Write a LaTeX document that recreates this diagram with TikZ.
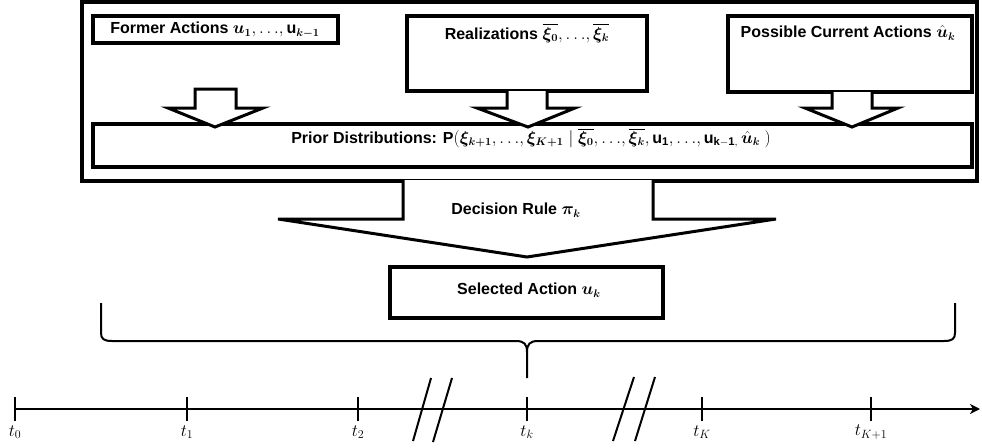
\documentclass[tikz,border=0pt]{standalone}
\usepackage{amsmath}
\usepackage{bm}
\usepackage{fontspec}
\setmainfont{Liberation Sans}
\usetikzlibrary{arrows.meta}

\begin{document}
\begin{tikzpicture}[x=1pt,y=-1pt,
  frame/.style={draw, line width=3.5pt, inner sep=0pt},
  box/.style={draw, line width=3.5pt, fill=white, inner sep=0pt},
  blk/.style={draw, line width=3pt, fill=white, line join=miter},
  lbl/.style={font=\fontsize{16}{19}\selectfont\bfseries, inner sep=0pt},
  brace/.style={draw, line width=2pt},
  axis/.style={draw, line width=2.5pt},
  tick/.style={draw, line width=2pt},
  cut/.style={draw, line width=2pt},
  tlab/.style={font=\fontsize{18}{20}\selectfont, inner sep=0pt}]

\useasboundingbox (0,0) rectangle (982,447);

% outer frame with the information available at stage k
\node[frame, minimum width=895pt, minimum height=179pt] (outer) at (529.5,91.5) {};

% information sources
\node[box, minimum width=245pt, minimum height=27pt] (former) at (215.5,29.5) {};
\node[box, minimum width=240pt, minimum height=75pt] (real) at (527,53.5) {};
\node[box, minimum width=244pt, minimum height=76pt] (poss) at (850,54) {};
\node[box, minimum width=879pt, minimum height=43pt] (prior) at (532.5,145.5) {};

\node[lbl] (formerlbl) at (215,30) {Former Actions $\bm{u}_{\bm 1},{\ldots},\mathbf{u}_{\bm{k-1}}$};
\node[lbl] (reallbl) at (527,33) {Realizations $\overline{\bm\xi_{\bm 0}},{\ldots},\overline{\bm\xi_{\bm k}}$};
\node[lbl] (posslbl) at (848,33) {Possible Current Actions $\hat{\bm u}_{\bm k}$};

% block arrows into the prior distributions
\path[blk] (195,89) -- (195,108) -- (168,108) -- (215,127) -- (263,108) -- (236,108) -- (236,89) -- cycle;
\path[blk] (507,91) -- (507,108) -- (477,108) -- (528,127) -- (575,108) -- (547,108) -- (547,91);
\path[blk] (832,92) -- (832,108) -- (805,108) -- (852,127) -- (898,108) -- (872,108) -- (872,92);

\node[lbl] (priorlbl) at (531,138) {Prior Distributions: $\mathbf{P}(\bm\xi_{\bm{k+1}},{\ldots},\bm\xi_{\bm{K+1}}\mid\overline{\bm\xi_{\bm 0}},{\ldots},\overline{\bm\xi_{\bm k}},\mathbf{u}_{\mathbf 1},{\ldots},\mathbf{u}_{\mathbf{k-1},}\,\hat{\bm u}_{\bm k}\ )$};

% decision rule arrow
\path[blk] (403,180) -- (403,219) -- (278,219) -- (527,257) -- (776,219) -- (653,219) -- (653,180);
\node[lbl] (declbl) at (516,210) {Decision Rule $\bm\pi_{\bm k}$};

% selected action
\node[box, minimum width=273pt, minimum height=51pt] (sel) at (526.5,292.5) {};
\node[lbl] (sellbl) at (529,290) {Selected Action $\bm u_{\bm k}$};

% brace over the horizon
\path[brace] (101,303) -- (101,333) .. controls (101,339) and (104,341) .. (112,341)
  -- (516,341) .. controls (524,341) and (527,344) .. (527,352) -- (527,378);
\path[brace] (955,303) -- (955,333) .. controls (955,339) and (952,341) .. (944,341)
  -- (538,341) .. controls (530,341) and (527,344) .. (527,352);

% time axis
\coordinate (t0) at (15,409);
\coordinate (t1) at (187,409);
\coordinate (t2) at (358,409);
\coordinate (tk) at (527,409);
\coordinate (tK) at (702,409);
\coordinate (tK1) at (871,409);
\coordinate (tend) at (980,409);
\path[axis, -{Stealth[length=10pt,width=10pt,inset=3pt]}] (t0) -- (tend);

\foreach \c in {t0,t1,t2,tk,tK,tK1}
  \path[tick] ([yshift=-12pt]\c) -- ([yshift=12pt]\c);

\node[tlab] (l0) at (15,432) {$t_0$};
\node[tlab] (l1) at (187,432) {$t_1$};
\node[tlab] (l2) at (358,432) {$t_2$};
\node[tlab] (lk) at (527,432) {$t_k$};
\node[tlab] (lK) at (702,432) {$t_K$};
\node[tlab] (lK1) at (871,432) {$t_{K+1}$};

% breaks in the axis
\path[cut] (431,378) -- (413,441);
\path[cut] (452,378) -- (433,442);
\path[cut] (634,377) -- (613,441);
\path[cut] (655,377) -- (635,441);

\end{tikzpicture}
\end{document}
